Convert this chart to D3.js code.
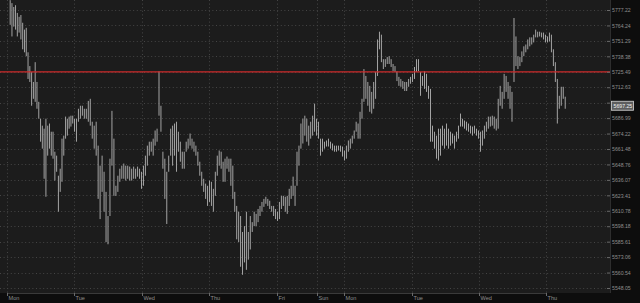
<!DOCTYPE html>
<html>
<head>
<meta charset="utf-8">
<script src="https://cdn.jsdelivr.net/npm/d3@7"></script>
<style>
  html, body { margin: 0; padding: 0; background: #0d0d0d; }
  svg { display: block; font-family: "Liberation Sans", Arial, sans-serif; }
</style>
</head>
<body>
<div id="chart"></div>
<script>
// bar highs / lows, one bar per session slot, left to right
const highs = [
  5785.5, 5783.0, 5779.75, 5781.25, 5774.75, 5771.5, 5773.0, 5766.5, 5760.75, 5762.25,
  5741.75, 5730.25, 5725.25, 5717.0, 5733.5, 5717.0, 5700.5, 5686.5, 5680.75, 5678.25,
  5686.5, 5680.75, 5682.5, 5675.75, 5675.75, 5659.25, 5656.0, 5639.5, 5645.25, 5670.0,
  5672.5, 5688.25, 5686.5, 5688.25, 5689.0, 5689.0, 5686.5, 5686.5, 5694.75, 5697.25,
  5697.25, 5694.75, 5694.75, 5701.25, 5703.0, 5684.0, 5680.75, 5684.0, 5664.25, 5647.75,
  5656.0, 5642.75, 5626.25, 5606.5, 5653.5, 5693.0, 5670.0, 5631.25, 5639.5, 5645.25,
  5647.75, 5649.5, 5647.75, 5647.75, 5647.0, 5645.25, 5647.0, 5645.25, 5647.0, 5645.25,
  5642.75, 5647.75, 5656.0, 5664.25, 5667.5, 5667.5, 5670.0, 5676.75, 5678.25, 5726.0,
  5697.25, 5659.25, 5653.5, 5642.75, 5656.0, 5678.25, 5680.75, 5682.5, 5684.0, 5675.75,
  5667.5, 5659.25, 5659.25, 5667.5, 5670.0, 5674.25, 5670.0, 5667.5, 5664.25, 5659.25,
  5651.0, 5642.75, 5637.0, 5633.0, 5631.25, 5635.5, 5634.5, 5628.75, 5642.75, 5656.0,
  5660.25, 5659.25, 5651.0, 5653.5, 5655.25, 5653.5, 5653.5, 5647.75, 5626.25, 5614.75,
  5610.0, 5606.5, 5593.5, 5598.25, 5610.0, 5593.5, 5606.5, 5601.5, 5610.0, 5608.25,
  5612.25, 5614.75, 5618.0, 5620.5, 5622.25, 5620.5, 5619.0, 5614.75, 5614.75, 5612.25,
  5610.0, 5618.0, 5623.0, 5623.0, 5622.25, 5623.0, 5628.75, 5631.25, 5638.75, 5631.25,
  5659.25, 5664.25, 5682.5, 5686.5, 5689.0, 5686.5, 5680.75, 5684.0, 5689.0, 5699.0,
  5686.5, 5684.0, 5670.0, 5670.0, 5667.5, 5668.5, 5670.0, 5667.5, 5666.0, 5664.25,
  5664.25, 5664.25, 5664.25, 5663.5, 5660.25, 5664.25, 5668.5, 5670.0, 5672.5, 5676.75,
  5684.0, 5682.5, 5692.25, 5703.0, 5727.75, 5722.0, 5717.0, 5713.75, 5708.75, 5717.0,
  5725.25, 5752.5, 5759.0, 5756.5, 5736.0, 5736.0, 5737.75, 5738.5, 5736.0, 5732.0,
  5730.25, 5726.0, 5721.25, 5719.5, 5717.75, 5717.0, 5717.0, 5719.5, 5721.25, 5723.75,
  5729.5, 5736.0, 5736.0, 5725.25, 5722.0, 5726.0, 5723.75, 5713.75, 5711.25, 5680.75,
  5675.75, 5672.5, 5678.25, 5678.25, 5680.75, 5678.25, 5682.5, 5678.25, 5675.75, 5674.25,
  5672.5, 5675.75, 5680.75, 5690.75, 5686.5, 5685.0, 5684.0, 5682.5, 5680.75, 5680.0,
  5680.75, 5678.25, 5676.75, 5675.75, 5676.75, 5680.75, 5684.0, 5688.25, 5688.25, 5689.0,
  5688.25, 5686.5, 5703.0, 5713.75, 5708.75, 5723.75, 5722.0, 5717.0, 5713.75, 5708.75,
  5770.5, 5755.0, 5738.5, 5737.75, 5742.5, 5746.75, 5748.25, 5752.5, 5754.25, 5754.25,
  5756.5, 5760.75, 5759.0, 5759.0, 5758.25, 5758.25, 5756.5, 5755.0, 5758.25, 5756.5,
  5744.25, 5733.5, 5719.5, 5705.5, 5713.0, 5713.0, 5704.75
];
const lows = [
  5764.75, 5755.0, 5763.25, 5760.75, 5755.0, 5758.25, 5752.5, 5744.25, 5741.75, 5738.5,
  5719.5, 5717.0, 5697.25, 5703.0, 5700.5, 5694.75, 5686.5, 5667.5, 5661.75, 5637.0,
  5622.25, 5656.0, 5661.75, 5656.0, 5653.5, 5635.5, 5642.75, 5610.0, 5626.25, 5634.5,
  5656.0, 5670.0, 5672.5, 5678.25, 5680.0, 5682.5, 5675.75, 5667.5, 5684.0, 5686.5,
  5689.0, 5686.5, 5686.5, 5684.0, 5680.75, 5670.0, 5661.75, 5656.0, 5620.5, 5604.0,
  5626.25, 5610.0, 5585.25, 5583.5, 5606.5, 5647.75, 5623.0, 5623.0, 5626.25, 5634.5,
  5637.0, 5637.0, 5635.5, 5637.0, 5635.5, 5635.5, 5637.0, 5637.0, 5638.75, 5637.0,
  5628.75, 5631.25, 5639.5, 5647.75, 5656.0, 5659.25, 5656.0, 5664.25, 5667.5, 5689.0,
  5675.75, 5645.25, 5620.5, 5600.0, 5642.75, 5656.0, 5647.75, 5656.0, 5642.75, 5659.25,
  5651.0, 5645.25, 5645.25, 5659.25, 5661.75, 5664.25, 5661.75, 5659.25, 5656.0, 5647.75,
  5639.5, 5631.25, 5626.25, 5620.5, 5614.75, 5618.0, 5614.75, 5610.0, 5623.0, 5639.5,
  5647.75, 5645.25, 5634.5, 5634.5, 5645.25, 5642.75, 5631.25, 5620.5, 5610.0, 5587.5,
  5585.25, 5565.25, 5558.75, 5568.75, 5562.75, 5571.0, 5579.25, 5593.5, 5598.25, 5598.25,
  5601.5, 5606.5, 5610.0, 5614.0, 5616.5, 5614.75, 5612.25, 5610.0, 5606.5, 5604.0,
  5602.5, 5604.0, 5612.25, 5614.75, 5610.0, 5608.25, 5614.75, 5620.5, 5623.0, 5614.75,
  5631.25, 5647.75, 5661.75, 5666.0, 5672.5, 5667.5, 5664.25, 5670.0, 5672.5, 5675.75,
  5672.5, 5670.0, 5656.0, 5659.25, 5661.75, 5663.5, 5663.5, 5661.75, 5660.25, 5659.25,
  5659.25, 5660.25, 5659.25, 5655.25, 5652.0, 5653.5, 5659.25, 5661.75, 5666.0, 5670.0,
  5675.75, 5670.0, 5670.0, 5686.5, 5700.5, 5703.0, 5697.25, 5692.25, 5690.75, 5694.75,
  5703.0, 5722.0, 5744.25, 5733.5, 5727.75, 5729.5, 5732.0, 5732.0, 5729.5, 5726.0,
  5725.25, 5717.75, 5713.75, 5713.0, 5711.25, 5709.5, 5709.5, 5713.0, 5715.5, 5717.0,
  5719.5, 5725.25, 5726.0, 5705.5, 5713.75, 5711.25, 5708.75, 5703.0, 5667.5, 5667.5,
  5661.75, 5653.5, 5652.0, 5656.0, 5664.25, 5661.75, 5664.25, 5661.75, 5664.25, 5666.0,
  5661.75, 5667.5, 5670.0, 5680.0, 5680.0, 5678.25, 5676.75, 5675.75, 5674.25, 5672.5,
  5674.25, 5672.5, 5670.0, 5659.25, 5664.25, 5670.0, 5675.75, 5678.25, 5680.0, 5680.75,
  5678.25, 5676.75, 5678.25, 5697.25, 5694.75, 5703.0, 5708.75, 5703.0, 5694.75, 5684.0,
  5717.0, 5730.25, 5727.75, 5730.25, 5733.5, 5738.5, 5741.75, 5744.25, 5746.75, 5748.25,
  5750.0, 5754.25, 5754.25, 5755.0, 5754.25, 5752.5, 5750.0, 5750.0, 5750.75, 5741.75,
  5730.25, 5717.0, 5682.5, 5694.75, 5697.25, 5703.0, 5694.75
];
const lastPrice = 5697.25;
const refLevel = 5725.49;

const priceTicks = [5777.22, 5764.24, 5751.29, 5738.38, 5725.49, 5712.63, 5699.80,
  5686.99, 5674.22, 5661.48, 5648.76, 5636.07, 5623.41, 5610.78, 5598.18, 5585.61,
  5573.06, 5560.54, 5548.05];
const dayLabels = ["Mon", "Tue", "Wed", "Thu", "Fri", "Sun", "Mon", "Tue", "Wed", "Thu"];
// bar index where each session label sits
const dayStartBar = [-1.5, 36, 70.5, 105, 140, 160.5, 174, 209, 242.5, 276.5];
// screen position of each session label (layout)
const dayTickX = [7, 74, 142, 209, 277, 317, 344, 412, 479, 546];

const width = 640, height = 303;
const plotW = 610, plotH = 293;

const svg = d3.select("#chart").append("svg")
  .attr("width", width)
  .attr("height", height);

svg.append("rect").attr("width", width).attr("height", height).attr("fill", "#0d0d0d");
svg.append("rect").attr("width", plotW).attr("height", plotH).attr("fill", "#1c1c1c");

const x = d3.scaleLinear().domain(dayStartBar).range(dayTickX);
const y = d3.scaleLog().domain([5548.05, 5777.22]).range([288, 10]);

const plot = svg.append("g");

// dotted grid
plot.selectAll(".hgrid")
  .data(priceTicks)
  .join("line")
  .attr("class", "hgrid")
  .attr("x1", 0)
  .attr("x2", plotW - 4)
  .attr("y1", (d) => Math.round(y(d)) + 0.5)
  .attr("y2", (d) => Math.round(y(d)) + 0.5)
  .attr("stroke", "#454545")
  .attr("stroke-dasharray", "1,2.6");

plot.selectAll(".vgrid")
  .data(dayStartBar)
  .join("line")
  .attr("class", "vgrid")
  .attr("x1", (d) => Math.round(x(d)) + 0.5)
  .attr("x2", (d) => Math.round(x(d)) + 0.5)
  .attr("y1", 0)
  .attr("y2", plotH)
  .attr("stroke", "#454545")
  .attr("stroke-dasharray", "1,2.6");

// price bars
plot.selectAll(".bar")
  .data(highs)
  .join("line")
  .attr("class", "bar")
  .attr("x1", (d, i) => x(i) + 0.5)
  .attr("x2", (d, i) => x(i) + 0.5)
  .attr("y1", (d) => y(d))
  .attr("y2", (d, i) => Math.max(y(lows[i]), y(d) + 1))
  .attr("stroke", "#a4a4a4")
  .attr("stroke-width", 1);

// reference level
plot.append("line")
  .attr("x1", 0)
  .attr("x2", plotW)
  .attr("y1", y(refLevel))
  .attr("y2", y(refLevel))
  .attr("stroke", "#cc2a2a")
  .attr("stroke-width", 1.3);

// right price axis
const yAxis = svg.append("g")
  .attr("transform", `translate(${plotW - 3},0)`)
  .call(d3.axisRight(y).tickValues(priceTicks).tickFormat(d3.format(".2f"))
    .tickSize(3).tickPadding(2));
yAxis.select(".domain").remove();
yAxis.selectAll(".tick line").attr("stroke", "#6a6a6a");
yAxis.selectAll(".tick text")
  .attr("fill", "#8e8e8e")
  .style("font-size", "5.2px");
// the last-price marker covers the label nearest to it
yAxis.selectAll(".tick text")
  .filter((d) => Math.abs(y(d) - y(lastPrice)) < 7)
  .remove();

svg.append("line")
  .attr("x1", plotW + 0.5).attr("x2", plotW + 0.5)
  .attr("y1", 0).attr("y2", plotH)
  .attr("stroke", "#2e2e2e");

// bottom day axis
const xAxis = svg.append("g")
  .attr("transform", `translate(0,${plotH})`)
  .call(d3.axisBottom(x).tickValues(dayStartBar).tickFormat((d, i) => dayLabels[i])
    .tickSize(3).tickPadding(0));
xAxis.select(".domain").attr("stroke", "#3a3a3a");
xAxis.selectAll(".tick line").attr("stroke", "#6a6a6a");
xAxis.selectAll(".tick text")
  .attr("fill", "#8e8e8e")
  .attr("text-anchor", "start")
  .attr("x", 1)
  .style("font-size", "5.6px");

// last price marker
const lp = svg.append("g").attr("transform", `translate(${plotW + 1},${y(lastPrice)})`);
lp.append("rect")
  .attr("x", 0.5).attr("y", -4.5)
  .attr("width", 22).attr("height", 9)
  .attr("fill", "#5e5e5e")
  .attr("stroke", "#d8d8d8")
  .attr("stroke-width", 0.8);
lp.append("text")
  .attr("x", 2.5).attr("dy", "0.35em")
  .attr("fill", "#f2f2f2")
  .style("font-size", "5.2px")
  .text(d3.format(".2f")(lastPrice));
</script>
</body>
</html>
